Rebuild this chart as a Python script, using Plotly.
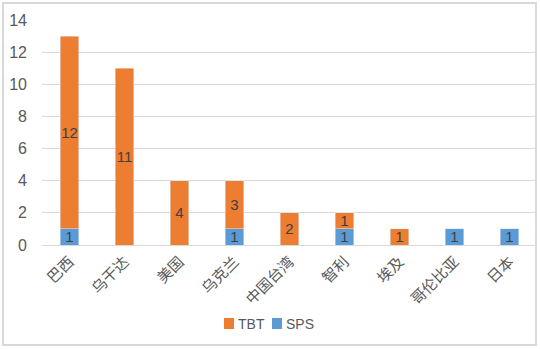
import plotly.graph_objects as go

categories = ["巴西", "乌干达", "美国", "乌克兰", "中国台湾", "智利", "埃及", "哥伦比亚", "日本"]
sps = [1, 0, 0, 1, 0, 1, 0, 1, 1]
tbt = [12, 11, 4, 3, 2, 1, 1, 0, 0]
y_ticks = [0, 2, 4, 6, 8, 10, 12, 14]
series_names = ["TBT", "SPS"]
series_colors = {"TBT": "#ed7d31", "SPS": "#5b9bd5"}

W, H = 540, 349
ML, MR, MT, MB = 42, 3, 20, 104
PW, PH = W - ML - MR, H - MT - MB

FONT = "Liberation Sans, Noto Sans CJK SC, sans-serif"
TXT = "#595959"
LABEL = "#404040"


def labels(vals):
    return [str(v) if v else "" for v in vals]


fig = go.Figure()
for name, vals in (("SPS", sps), ("TBT", tbt)):
    fig.add_trace(go.Bar(
        x=categories, y=vals, name=name, marker_color=series_colors[name],
        text=labels(vals), textposition="inside", insidetextanchor="middle",
        textangle=0, constraintext="none",
        textfont=dict(color=LABEL, size=15, family=FONT),
        width=0.33, showlegend=False,
    ))


def px_to_paper_x(px):
    return (px - ML) / PW


def px_to_paper_y(py):
    return (H - MB - py) / PH


# compact legend: small squares followed by series names
shapes = [dict(type="rect", xref="paper", yref="paper",
               x0=px_to_paper_x(3), x1=px_to_paper_x(536),
               y0=px_to_paper_y(345), y1=px_to_paper_y(3),
               line=dict(color="#d9d9d9", width=2), layer="below")]
annotations = []
legend_x = {"TBT": 224, "SPS": 272}
for name in series_names:
    x0 = legend_x[name]
    shapes.append(dict(type="rect", xref="paper", yref="paper",
                       x0=px_to_paper_x(x0), x1=px_to_paper_x(x0 + 10),
                       y0=px_to_paper_y(329), y1=px_to_paper_y(318),
                       line=dict(width=0), fillcolor=series_colors[name]))
    annotations.append(dict(xref="paper", yref="paper",
                            x=px_to_paper_x(x0 + 12), y=px_to_paper_y(323.5),
                            xanchor="left", yanchor="middle", showarrow=False,
                            text=name, font=dict(size=14, color=TXT, family=FONT)))

fig.update_layout(
    width=W, height=H, barmode="stack",
    margin=dict(l=ML, r=MR, t=MT, b=MB),
    paper_bgcolor="white", plot_bgcolor="white",
    font=dict(family=FONT, color=TXT, size=14),
    showlegend=False,
    xaxis=dict(tickangle=-45, tickfont=dict(size=15, color=TXT),
               showline=False, showgrid=False, ticks="",
               ticklabelstandoff=4),
    yaxis=dict(range=[0, 14], tickvals=y_ticks, showgrid=True,
               gridcolor="#d9d9d9", gridwidth=1, zeroline=True,
               zerolinecolor="#d9d9d9", zerolinewidth=1,
               tickfont=dict(size=16, color=TXT), ticks="",
               ticklabelstandoff=14, showline=False),
    shapes=shapes,
    annotations=annotations,
)

fig.write_html("out.html")
